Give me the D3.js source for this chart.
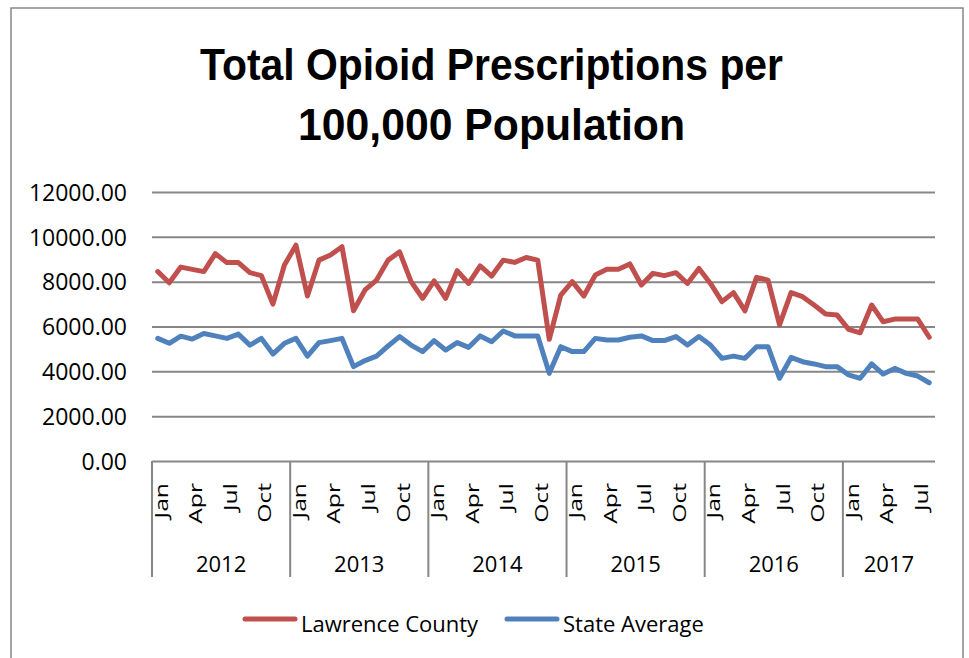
<!DOCTYPE html>
<html>
<head>
<meta charset="utf-8">
<script src="https://cdn.jsdelivr.net/npm/d3@7"></script>
<style>
    body { margin: 0; background: #fff; }
    svg { display: block; }
</style>
</head>
<body>
<div id="chart"></div>
<script>
// Dados do gráfico
const years = ["2012", "2013", "2014", "2015", "2016", "2017"];
const monthNames = ["Jan", "Feb", "Mar", "Apr", "May", "Jun", "Jul", "Aug", "Sep", "Oct", "Nov", "Dec"];
const monthsPerYear = [12, 12, 12, 12, 12, 8];
const yTicks = [0, 2000, 4000, 6000, 8000, 10000, 12000];

const lawrenceCounty = [
    8450, 7950, 8650, 8550, 8450, 9250, 8850, 8850, 8400, 8270, 7000, 8740,
    9630, 7360, 8960, 9190, 9560, 6700, 7630, 8070, 8960, 9330, 8000, 7260,
    8040, 7260, 8490, 7920, 8700, 8250, 8960, 8860, 9080, 8960, 5430, 7400,
    8000, 7360, 8300, 8550, 8550, 8790, 7850, 8370, 8270, 8400, 7920, 8590,
    7920, 7110, 7510, 6700, 8190, 8070, 6070, 7510, 7330, 6960, 6560, 6510,
    5870, 5720, 6960, 6210, 6330, 6330, 6330, 5520
];

const stateAverage = [
    5470, 5250, 5570, 5440, 5690, 5580, 5470, 5660, 5170, 5470, 4770, 5250,
    5470, 4680, 5280, 5370, 5470, 4210, 4480, 4680, 5130, 5550, 5170, 4880,
    5370, 4950, 5280, 5070, 5580, 5320, 5800, 5580, 5580, 5580, 3910, 5100,
    4880, 4880, 5470, 5400, 5400, 5520, 5580, 5370, 5370, 5550, 5170, 5550,
    5170, 4580, 4680, 4580, 5100, 5100, 3690, 4620, 4430, 4330, 4210, 4210,
    3840, 3690, 4330, 3880, 4130, 3910, 3790, 3490
];

const seriesNames = ["Lawrence County", "State Average"];
const colors = ["#C0504D", "#4F81BD"];

// Categorias (ano / mês)
const categories = [];
years.forEach((yr, yi) => {
    for (let m = 0; m < monthsPerYear[yi]; m++) {
        categories.push({ key: yr + "-" + m, year: yr, month: monthNames[m], m: m });
    }
});

const W = 969, H = 658;
const plot = { left: 152, right: 935, top: 192, bottom: 461 };
const axisFont = "'Open Sans', 'DejaVu Sans', sans-serif";
const gridColor = "#878787";

const svg = d3.select("#chart")
    .append("svg")
    .attr("width", W)
    .attr("height", H);

// Borda externa
svg.append("rect")
    .attr("x", 11).attr("y", 8)
    .attr("width", 952).attr("height", 670)
    .attr("fill", "#fff")
    .attr("stroke", gridColor)
    .attr("stroke-width", 1.5);

// Título
const title = svg.append("g")
    .attr("font-family", "'Liberation Sans Narrow', 'Liberation Sans', sans-serif")
    .attr("font-weight", "bold")
    .attr("font-size", 44)
    .attr("fill", "#000");

title.append("text")
    .attr("x", 200).attr("y", 80)
    .attr("textLength", 583)
    .attr("lengthAdjust", "spacingAndGlyphs")
    .text("Total Opioid Prescriptions per");

title.append("text")
    .attr("x", 298).attr("y", 140)
    .attr("textLength", 387)
    .attr("lengthAdjust", "spacingAndGlyphs")
    .text("100,000 Population");

// Escalas
const x = d3.scaleBand()
    .domain(categories.map(d => d.key))
    .range([plot.left, plot.right])
    .padding(0);

const y = d3.scaleLinear()
    .domain([0, 12000])
    .range([plot.bottom, plot.top]);

const cx = k => x(k) + x.bandwidth() / 2;

// Linhas de grade + rótulos do eixo Y
const yAxis = svg.append("g")
    .call(d3.axisLeft(y)
        .tickValues(yTicks)
        .tickSize(0)
        .tickPadding(0)
        .tickFormat(d3.format(".2f")));
yAxis.select(".domain").remove();
yAxis.selectAll("text")
    .attr("x", 127)
    .attr("dy", "0.36em")
    .attr("font-family", axisFont)
    .attr("font-size", 23)
    .attr("fill", "#000");
yAxis.selectAll(".tick")
    .append("line")
    .attr("x1", plot.left)
    .attr("x2", plot.right)
    .attr("stroke", gridColor)
    .attr("stroke-width", 2);

// Eixo de categorias com dois níveis
const xAxis = svg.append("g");

const yearStarts = categories.filter(d => d.m === 0);
xAxis.selectAll("line.year")
    .data(yearStarts)
    .enter()
    .append("line")
    .attr("class", "year")
    .attr("x1", d => x(d.key)).attr("x2", d => x(d.key))
    .attr("y1", plot.bottom).attr("y2", 577)
    .attr("stroke", gridColor)
    .attr("stroke-width", 2);

// Rótulos dos meses (a cada 3 meses)
xAxis.selectAll("text.month")
    .data(categories.filter(d => d.m % 3 === 0))
    .enter()
    .append("text")
    .attr("class", "month")
    .attr("transform", d => `translate(${cx(d.key) + 10},483) rotate(-90) scale(1.3,1)`)
    .attr("text-anchor", "end")
    .attr("font-family", axisFont)
    .attr("font-size", 19)
    .attr("fill", "#000")
    .text(d => d.month);

// Rótulos dos anos
xAxis.selectAll("text.yr")
    .data(years)
    .enter()
    .append("text")
    .attr("class", "yr")
    .attr("x", (d, i) => {
        const first = categories.find(c => c.year === d);
        const last = categories.filter(c => c.year === d).pop();
        return (x(first.key) + x(last.key) + x.bandwidth()) / 2;
    })
    .attr("y", 572)
    .attr("text-anchor", "middle")
    .attr("font-family", axisFont)
    .attr("font-size", 22)
    .attr("fill", "#000")
    .text(d => d);

// Séries
const line = d3.line()
    .x((d, i) => cx(categories[i].key))
    .y(d => y(d));

[lawrenceCounty, stateAverage].forEach((series, i) => {
    svg.append("path")
        .datum(series)
        .attr("fill", "none")
        .attr("stroke", colors[i])
        .attr("stroke-width", 5)
        .attr("stroke-linejoin", "round")
        .attr("stroke-linecap", "round")
        .attr("d", line);
});

// Legenda
const legendPos = [245, 507];
const legend = svg.append("g")
    .selectAll("g")
    .data(seriesNames)
    .enter()
    .append("g")
    .attr("transform", (d, i) => `translate(${legendPos[i]},619)`);

legend.append("line")
    .attr("x1", 0).attr("x2", 50)
    .attr("stroke", (d, i) => colors[i])
    .attr("stroke-width", 5)
    .attr("stroke-linecap", "round");

legend.append("text")
    .attr("x", 56)
    .attr("y", 13)
    .attr("font-family", axisFont)
    .attr("font-size", 22)
    .attr("fill", "#000")
    .text(d => d);
</script>
</body>
</html>
